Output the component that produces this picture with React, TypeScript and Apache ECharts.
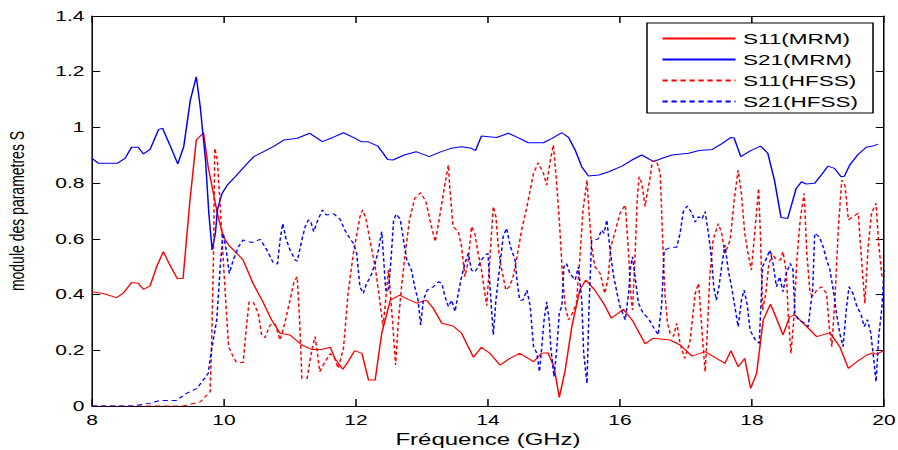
import React, { useEffect, useRef } from "react";
import * as echarts from "echarts";

// Figure is a horizontally stretched plot: render narrower, then stretch
const FULL_W = 898;
const H = 450;
const W = 599;
const S = FULL_W / W;
const px = (x: number) => x / S;

const xTicks = { min: 8, max: 20, interval: 2 };
const yTicks = { min: 0, max: 1.4, interval: 0.2 };

const legendNames = ["S11(MRM)", "S21(MRM)", "S11(HFSS)", "S21(HFSS)"];

const s11Mrm: number[][] = [
  [8.0, 0.41], [8.17, 0.404], [8.37, 0.389], [8.47, 0.404], [8.6, 0.443], [8.7, 0.441], [8.78, 0.419],
  [8.88, 0.431], [8.98, 0.5], [9.08, 0.554], [9.18, 0.506], [9.29, 0.458], [9.38, 0.458], [9.48, 0.728],
  [9.58, 0.955], [9.69, 0.981], [9.76, 0.859], [9.84, 0.763], [9.91, 0.68], [9.99, 0.608], [10.07, 0.578],
  [10.17, 0.554], [10.29, 0.524], [10.44, 0.44], [10.59, 0.374], [10.72, 0.309], [10.85, 0.261], [11.0, 0.255],
  [11.18, 0.219], [11.33, 0.203], [11.48, 0.203], [11.61, 0.211], [11.68, 0.171], [11.8, 0.132], [11.88, 0.159],
  [11.98, 0.199], [12.09, 0.189], [12.19, 0.093], [12.29, 0.093], [12.39, 0.261], [12.52, 0.38], [12.66, 0.398],
  [12.79, 0.383], [12.92, 0.369], [13.07, 0.38], [13.17, 0.351], [13.3, 0.297], [13.47, 0.287], [13.6, 0.261],
  [13.78, 0.175], [13.9, 0.211], [14.03, 0.189], [14.18, 0.147], [14.33, 0.171], [14.48, 0.189], [14.69, 0.159],
  [14.81, 0.189], [14.91, 0.191], [15.0, 0.141], [15.08, 0.031], [15.17, 0.129], [15.27, 0.285], [15.39, 0.416],
  [15.48, 0.452], [15.62, 0.416], [15.75, 0.369], [15.87, 0.315], [16.05, 0.347], [16.2, 0.303], [16.38, 0.223],
  [16.5, 0.243], [16.76, 0.237], [16.91, 0.219], [17.09, 0.179], [17.29, 0.195], [17.59, 0.153], [17.68, 0.199],
  [17.79, 0.141], [17.89, 0.171], [17.98, 0.063], [18.07, 0.117], [18.17, 0.309], [18.28, 0.366], [18.37, 0.315],
  [18.47, 0.255], [18.57, 0.32], [18.65, 0.327], [18.83, 0.285], [18.98, 0.249], [19.18, 0.263], [19.33, 0.213],
  [19.46, 0.135], [19.59, 0.159], [19.74, 0.183], [19.84, 0.191], [19.89, 0.185], [20.0, 0.2],
];

const s21Mrm: number[][] = [
  [8.0, 0.889], [8.1, 0.871], [8.38, 0.871], [8.5, 0.889], [8.6, 0.929], [8.7, 0.929], [8.78, 0.905],
  [8.88, 0.921], [9.01, 0.993], [9.07, 0.997], [9.19, 0.931], [9.3, 0.869], [9.39, 0.931], [9.49, 1.098],
  [9.58, 1.182], [9.64, 1.074], [9.72, 0.883], [9.77, 0.692], [9.82, 0.56], [9.87, 0.62], [9.9, 0.704],
  [9.97, 0.763], [10.05, 0.793], [10.17, 0.823], [10.33, 0.865], [10.45, 0.895], [10.6, 0.913], [10.76, 0.933],
  [10.91, 0.955], [11.11, 0.961], [11.3, 0.979], [11.49, 0.949], [11.65, 0.964], [11.81, 0.981], [11.95, 0.965],
  [12.08, 0.949], [12.18, 0.949], [12.33, 0.933], [12.48, 0.885], [12.56, 0.883], [12.73, 0.901], [12.91, 0.913],
  [13.11, 0.895], [13.29, 0.913], [13.44, 0.925], [13.6, 0.931], [13.75, 0.925], [13.81, 0.917], [13.9, 0.969],
  [14.05, 0.966], [14.13, 0.964], [14.31, 0.979], [14.43, 0.966], [14.61, 0.945], [14.84, 0.945], [14.97, 0.961],
  [15.12, 0.981], [15.22, 0.964], [15.32, 0.919], [15.42, 0.859], [15.52, 0.826], [15.68, 0.829], [15.83, 0.841],
  [16.03, 0.861], [16.18, 0.883], [16.33, 0.901], [16.51, 0.877], [16.66, 0.891], [16.79, 0.901], [17.04, 0.907],
  [17.2, 0.917], [17.4, 0.921], [17.55, 0.943], [17.68, 0.964], [17.73, 0.962], [17.83, 0.895], [17.98, 0.917],
  [18.13, 0.933], [18.24, 0.907], [18.34, 0.811], [18.44, 0.677], [18.54, 0.673], [18.67, 0.781], [18.75, 0.805],
  [18.82, 0.797], [18.95, 0.8], [19.05, 0.829], [19.15, 0.861], [19.25, 0.853], [19.35, 0.823], [19.4, 0.825],
  [19.48, 0.865], [19.6, 0.901], [19.73, 0.929], [19.83, 0.933], [19.91, 0.94],
];

const s11Hfss: number[][] = [
  [8.0, 0], [9.38, 0], [9.64, 0.015], [9.79, 0.051], [9.81, 0.201], [9.84, 0.524], [9.86, 0.925], [9.9, 0.883],
  [9.94, 0.728], [9.99, 0.52], [10.02, 0.4], [10.07, 0.213], [10.14, 0.177], [10.19, 0.156], [10.29, 0.156],
  [10.34, 0.285], [10.38, 0.374], [10.44, 0.374], [10.52, 0.333], [10.57, 0.255], [10.62, 0.245], [10.7, 0.291],
  [10.77, 0.297], [10.85, 0.237], [10.92, 0.297], [11.0, 0.38], [11.06, 0.446], [11.11, 0.464], [11.15, 0.285],
  [11.18, 0.099], [11.26, 0.099], [11.33, 0.201], [11.38, 0.249], [11.41, 0.2], [11.45, 0.123], [11.53, 0.159],
  [11.61, 0.188], [11.68, 0.17], [11.73, 0.135], [11.81, 0.207], [11.88, 0.404], [11.96, 0.548], [12.03, 0.64],
  [12.06, 0.68], [12.1, 0.704], [12.15, 0.674], [12.21, 0.596], [12.29, 0.5], [12.36, 0.38], [12.41, 0.285],
  [12.45, 0.38], [12.49, 0.488], [12.52, 0.41], [12.57, 0.249], [12.6, 0.147], [12.64, 0.297], [12.69, 0.428],
  [12.74, 0.536], [12.81, 0.668], [12.89, 0.745], [12.98, 0.766], [13.06, 0.733], [13.12, 0.668], [13.2, 0.59],
  [13.25, 0.655], [13.3, 0.728], [13.35, 0.8], [13.4, 0.865], [13.42, 0.787], [13.47, 0.644], [13.55, 0.626],
  [13.6, 0.572], [13.65, 0.464], [13.7, 0.52], [13.75, 0.644], [13.8, 0.62], [13.85, 0.548], [13.9, 0.49],
  [13.98, 0.36], [14.03, 0.536], [14.08, 0.716], [14.12, 0.68], [14.16, 0.56], [14.19, 0.512], [14.23, 0.464],
  [14.27, 0.416], [14.33, 0.43], [14.38, 0.464], [14.43, 0.524], [14.51, 0.632], [14.59, 0.716], [14.69, 0.835],
  [14.76, 0.873], [14.84, 0.835], [14.89, 0.793], [14.91, 0.83], [14.95, 0.889], [14.99, 0.937], [15.03, 0.83],
  [15.08, 0.668], [15.13, 0.464], [15.17, 0.357], [15.22, 0.309], [15.28, 0.333], [15.34, 0.369], [15.39, 0.524],
  [15.44, 0.704], [15.48, 0.775], [15.5, 0.811], [15.53, 0.7], [15.57, 0.572], [15.62, 0.5], [15.7, 0.476],
  [15.77, 0.404], [15.82, 0.46], [15.86, 0.572], [15.92, 0.62], [16.0, 0.692], [16.08, 0.722], [16.13, 0.548],
  [16.16, 0.404], [16.19, 0.345], [16.23, 0.55], [16.26, 0.739], [16.29, 0.823], [16.33, 0.8], [16.38, 0.716],
  [16.41, 0.76], [16.45, 0.811], [16.49, 0.877], [16.55, 0.883], [16.61, 0.835], [16.65, 0.572], [16.68, 0.404],
  [16.72, 0.297], [16.76, 0.261], [16.81, 0.25], [16.86, 0.297], [16.91, 0.225], [16.98, 0.171], [17.06, 0.231],
  [17.14, 0.404], [17.19, 0.44], [17.22, 0.345], [17.26, 0.213], [17.29, 0.123], [17.32, 0.25], [17.36, 0.464],
  [17.41, 0.596], [17.49, 0.655], [17.54, 0.62], [17.59, 0.548], [17.67, 0.596], [17.73, 0.739], [17.79, 0.847],
  [17.84, 0.76], [17.89, 0.62], [17.94, 0.548], [17.99, 0.488], [18.05, 0.644], [18.1, 0.781], [18.13, 0.6],
  [18.16, 0.345], [18.21, 0.404], [18.25, 0.5], [18.3, 0.548], [18.37, 0.524], [18.43, 0.524], [18.47, 0.554],
  [18.52, 0.48], [18.55, 0.32], [18.59, 0.189], [18.63, 0.3], [18.68, 0.524], [18.73, 0.668], [18.79, 0.763],
  [18.83, 0.55], [18.88, 0.404], [18.93, 0.395], [18.98, 0.416], [19.05, 0.428], [19.13, 0.404], [19.17, 0.285],
  [19.21, 0.213], [19.26, 0.4], [19.31, 0.644], [19.36, 0.811], [19.41, 0.79], [19.46, 0.668], [19.53, 0.68],
  [19.61, 0.692], [19.66, 0.524], [19.71, 0.369], [19.76, 0.572], [19.81, 0.692], [19.88, 0.728], [19.92, 0.58],
  [19.97, 0.464],
];

const s21Hfss: number[][] = [
  [8.0, 0], [8.6, 0], [8.88, 0.01], [9.03, 0.02], [9.28, 0.02], [9.43, 0.045], [9.59, 0.063], [9.76, 0.117],
  [9.81, 0.2], [9.89, 0.309], [9.95, 0.524], [9.99, 0.62], [10.04, 0.55], [10.08, 0.476], [10.14, 0.524],
  [10.22, 0.572], [10.29, 0.596], [10.42, 0.587], [10.55, 0.598], [10.65, 0.56], [10.75, 0.512], [10.81, 0.51],
  [10.85, 0.596], [10.89, 0.655], [10.94, 0.6], [11.0, 0.56], [11.08, 0.524], [11.11, 0.52], [11.18, 0.596],
  [11.23, 0.644], [11.28, 0.668], [11.31, 0.665], [11.36, 0.626], [11.41, 0.66], [11.49, 0.704], [11.55, 0.686],
  [11.66, 0.69], [11.76, 0.67], [11.83, 0.632], [11.91, 0.6], [11.96, 0.584], [12.01, 0.548], [12.06, 0.428],
  [12.11, 0.404], [12.16, 0.44], [12.22, 0.464], [12.29, 0.512], [12.34, 0.56], [12.39, 0.626], [12.41, 0.56],
  [12.45, 0.416], [12.49, 0.41], [12.53, 0.524], [12.57, 0.668], [12.61, 0.689], [12.67, 0.67], [12.72, 0.596],
  [12.77, 0.524], [12.84, 0.488], [12.89, 0.428], [12.94, 0.38], [12.98, 0.291], [13.02, 0.38], [13.08, 0.416],
  [13.17, 0.428], [13.25, 0.446], [13.3, 0.44], [13.35, 0.392], [13.4, 0.357], [13.45, 0.38], [13.5, 0.339],
  [13.55, 0.404], [13.6, 0.464], [13.65, 0.512], [13.7, 0.548], [13.75, 0.488], [13.8, 0.48], [13.85, 0.5],
  [13.9, 0.524], [13.95, 0.54], [14.0, 0.548], [14.03, 0.428], [14.08, 0.255], [14.12, 0.38], [14.16, 0.464],
  [14.19, 0.524], [14.23, 0.608], [14.28, 0.638], [14.34, 0.572], [14.41, 0.524], [14.44, 0.45], [14.48, 0.38],
  [14.53, 0.38], [14.59, 0.416], [14.64, 0.357], [14.69, 0.213], [14.74, 0.19], [14.78, 0.123], [14.81, 0.2],
  [14.85, 0.309], [14.89, 0.374], [14.93, 0.3], [14.95, 0.213], [15.0, 0.105], [15.04, 0.2], [15.08, 0.333],
  [15.12, 0.36], [15.15, 0.5], [15.19, 0.512], [15.24, 0.476], [15.32, 0.452], [15.37, 0.5], [15.42, 0.38],
  [15.45, 0.189], [15.5, 0.081], [15.53, 0.35], [15.57, 0.596], [15.62, 0.596], [15.67, 0.6], [15.72, 0.632],
  [15.76, 0.62], [15.8, 0.668], [15.85, 0.56], [15.9, 0.47], [15.96, 0.4], [16.0, 0.357], [16.08, 0.309],
  [16.13, 0.404], [16.16, 0.5], [16.19, 0.536], [16.23, 0.46], [16.28, 0.369], [16.35, 0.333], [16.43, 0.315],
  [16.5, 0.285], [16.58, 0.255], [16.63, 0.36], [16.67, 0.56], [16.73, 0.566], [16.81, 0.57], [16.86, 0.57],
  [16.91, 0.62], [16.96, 0.698], [17.02, 0.718], [17.09, 0.692], [17.14, 0.66], [17.19, 0.68], [17.24, 0.67],
  [17.29, 0.698], [17.34, 0.62], [17.39, 0.524], [17.42, 0.428], [17.46, 0.38], [17.5, 0.43], [17.54, 0.5],
  [17.59, 0.578], [17.64, 0.488], [17.69, 0.428], [17.74, 0.357], [17.79, 0.285], [17.84, 0.38], [17.88, 0.416],
  [17.93, 0.36], [17.97, 0.273], [18.05, 0.237], [18.11, 0.225], [18.16, 0.5], [18.21, 0.524], [18.27, 0.56],
  [18.32, 0.51], [18.37, 0.428], [18.42, 0.464], [18.47, 0.41], [18.52, 0.476], [18.58, 0.512], [18.62, 0.49],
  [18.65, 0.333], [18.7, 0.309], [18.78, 0.3], [18.85, 0.285], [18.92, 0.42], [18.95, 0.62], [19.02, 0.608],
  [19.08, 0.57], [19.13, 0.524], [19.18, 0.49], [19.24, 0.404], [19.28, 0.333], [19.33, 0.261], [19.38, 0.213],
  [19.43, 0.35], [19.47, 0.428], [19.53, 0.404], [19.59, 0.357], [19.65, 0.33], [19.7, 0.285], [19.75, 0.31],
  [19.8, 0.261], [19.84, 0.177], [19.88, 0.087], [19.92, 0.25], [19.97, 0.357], [20.0, 0.488],
];

const RED = "#ff0000";
const BLUE = "#0000ff";
const DASH = [3.5, 2.5];
const FONT = "Liberation Sans";

export default function App() {
  const ref = useRef<HTMLDivElement>(null);

  useEffect(() => {
    if (!ref.current) return;
    const chart = echarts.init(ref.current, undefined, { renderer: "svg", width: W, height: H });

    const axisLine = { show: true, onZero: false, lineStyle: { color: "#000", width: 1 } };
    const mkSeries = (name: string, data: number[][], color: string, dashed: boolean) => ({
      name,
      type: "line",
      data,
      symbol: "none",
      showSymbol: false,
      smooth: false,
      clip: true,
      lineStyle: { color, width: 1, type: dashed ? DASH : "solid" },
      itemStyle: { color },
      emphasis: { disabled: true },
    });

    chart.setOption({
      animation: false,
      backgroundColor: "#fff",
      textStyle: { fontFamily: FONT },
      grid: {
        left: px(92), right: px(14), top: 16, bottom: 44,
        containLabel: false, outerBoundsMode: "none",
      },
      xAxis: [
        {
          type: "value", ...xTicks, position: "bottom",
          axisLine,
          axisTick: { inside: true, length: 7, lineStyle: { color: "#000" } },
          axisLabel: { color: "#000", fontSize: 14, margin: 7, fontFamily: FONT },
          splitLine: { show: false },
          name: "Fréquence (GHz)", nameLocation: "middle", nameGap: 25,
          nameTextStyle: { fontSize: 16, color: "#000", fontFamily: FONT },
        },
        {
          type: "value", ...xTicks, position: "top",
          axisLine,
          axisTick: { inside: true, length: 7, lineStyle: { color: "#000" } },
          axisLabel: { show: false },
          splitLine: { show: false },
        },
      ],
      yAxis: [
        {
          type: "value", ...yTicks, position: "left",
          axisLine,
          axisTick: { inside: true, length: 5.5, lineStyle: { color: "#000" } },
          axisLabel: { color: "#000", fontSize: 14, margin: 5, fontFamily: FONT },
          splitLine: { show: false },
          name: "module des parametres S", nameLocation: "middle", nameGap: 43,
          nameTextStyle: { fontSize: 14, color: "#000", fontFamily: FONT },
        },
        {
          type: "value", ...yTicks, position: "right",
          axisLine,
          axisTick: { inside: true, length: 5.5, lineStyle: { color: "#000" } },
          axisLabel: { show: false },
          splitLine: { show: false },
        },
      ],
      legend: {
        orient: "vertical",
        left: px(661),
        top: 31,
        padding: 0,
        itemWidth: px(73),
        itemHeight: 14,
        itemGap: 6,
        z: 5,
        itemStyle: { color: "rgba(0,0,0,0)", borderWidth: 0, opacity: 0 },
        textStyle: { fontSize: 15, color: "#000", fontFamily: FONT, lineHeight: 14 },
        data: legendNames,
      },
      graphic: [
        {
          type: "rect",
          z: 4,
          shape: { x: px(647), y: 23, width: px(873 - 647), height: 90 },
          style: { fill: "#fff", stroke: "#000", lineWidth: 1 },
        },
      ],
      tooltip: { show: false },
      series: [
        mkSeries(legendNames[0], s11Mrm, RED, false),
        mkSeries(legendNames[1], s21Mrm, BLUE, false),
        mkSeries(legendNames[2], s11Hfss, RED, true),
        mkSeries(legendNames[3], s21Hfss, BLUE, true),
      ],
    });

    return () => chart.dispose();
  }, []);

  return (
    <div style={{ position: "absolute", left: 0, top: 0, width: FULL_W, height: H, overflow: "hidden", background: "#fff" }}>
      <div
        ref={ref}
        style={{ width: W, height: H, transform: `scaleX(${S})`, transformOrigin: "0 0" }}
      />
    </div>
  );
}
